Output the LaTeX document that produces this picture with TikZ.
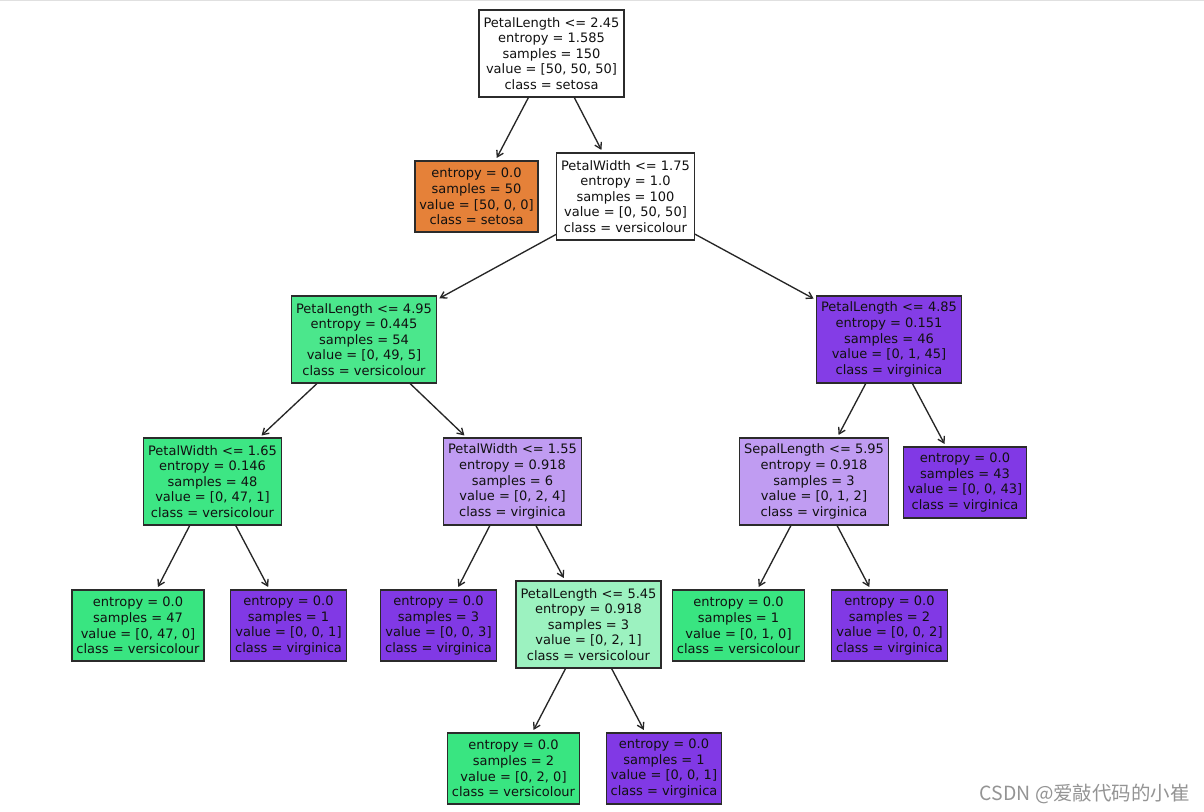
\documentclass[tikz,border=0pt]{standalone}
\usepackage{fontspec}
\setmainfont{DejaVu Sans}
\newfontfamily\cjk{Noto Sans CJK SC}
\usetikzlibrary{arrows.meta}
\begin{document}
\begin{tikzpicture}[x=0.75pt,y=-0.75pt,
  box/.style={draw=kEdge,line width=1pt,align=center,inner xsep=3.3pt,inner ysep=0pt,
    text=kText,font=\fontsize{9.75pt}{11.7pt}\selectfont},
  split/.style={box,minimum height=65.25pt},
  leaf/.style={box,minimum height=53.25pt},
  edge/.style={draw=kArrow,line width=1pt,-{Straight Barb[length=4.5pt,width=5.5pt]},shorten >=2pt}]
  % colors
  \definecolor{kEdge}{HTML}{2B2B2B}
  \definecolor{kArrow}{HTML}{262626}
  \definecolor{kText}{HTML}{111111}
  \definecolor{kOrange}{HTML}{E58139}
  \definecolor{kGreen}{HTML}{39E581}
  \definecolor{kPurple}{HTML}{8139E5}
  \definecolor{kGreenA}{HTML}{4BE78C}
  \definecolor{kGreenB}{HTML}{3DE684}
  \definecolor{kGreenC}{HTML}{9CF2C0}
  \definecolor{kPurpleA}{HTML}{843DE6}
  \definecolor{kPurpleB}{HTML}{C09CF2}
  % frame
  \useasboundingbox[fill=white] (0,0) rectangle (1204,812);
  \draw[draw=black!12,line width=0.75pt] (0,0.5) -- (1204,0.5);
  % splits
  \node[split,fill=white] (n0) at (551.5,53.5)
    {PetalLength <= 2.45\\entropy = 1.585\\samples = 150\\value = [50, 50, 50]\\class = setosa};
  \node[split,fill=white] (n2) at (625.5,196.5)
    {PetalWidth <= 1.75\\entropy = 1.0\\samples = 100\\value = [0, 50, 50]\\class = versicolour};
  \node[split,fill=kGreenA] (n3) at (364,339.5)
    {PetalLength <= 4.95\\entropy = 0.445\\samples = 54\\value = [0, 49, 5]\\class = versicolour};
  \node[split,fill=kPurpleA] (n12) at (889,339.5)
    {PetalLength <= 4.85\\entropy = 0.151\\samples = 46\\value = [0, 1, 45]\\class = virginica};
  \node[split,fill=kGreenB] (n4) at (212.5,481.5)
    {PetalWidth <= 1.65\\entropy = 0.146\\samples = 48\\value = [0, 47, 1]\\class = versicolour};
  \node[split,fill=kPurpleB] (n7) at (512.5,481.5)
    {PetalWidth <= 1.55\\entropy = 0.918\\samples = 6\\value = [0, 2, 4]\\class = virginica};
  \node[split,fill=kPurpleB] (n13) at (814,481.5)
    {SepalLength <= 5.95\\entropy = 0.918\\samples = 3\\value = [0, 1, 2]\\class = virginica};
  \node[split,fill=kGreenC] (n9) at (588.5,624.5)
    {PetalLength <= 5.45\\entropy = 0.918\\samples = 3\\value = [0, 2, 1]\\class = versicolour};
  % leaves
  \node[leaf,fill=kOrange] (n1) at (476.5,196.5)
    {entropy = 0.0\\samples = 50\\value = [50, 0, 0]\\class = setosa};
  \node[leaf,fill=kPurple] (n16) at (965,482.5)
    {entropy = 0.0\\samples = 43\\value = [0, 0, 43]\\class = virginica};
  \node[leaf,fill=kGreen] (n5) at (138,625.5)
    {entropy = 0.0\\samples = 47\\value = [0, 47, 0]\\class = versicolour};
  \node[leaf,fill=kPurple] (n6) at (288.5,625.5)
    {entropy = 0.0\\samples = 1\\value = [0, 0, 1]\\class = virginica};
  \node[leaf,fill=kPurple] (n8) at (438.5,625.5)
    {entropy = 0.0\\samples = 3\\value = [0, 0, 3]\\class = virginica};
  \node[leaf,fill=kGreen] (n14) at (738.5,625.5)
    {entropy = 0.0\\samples = 1\\value = [0, 1, 0]\\class = versicolour};
  \node[leaf,fill=kPurple] (n15) at (889.5,625.5)
    {entropy = 0.0\\samples = 2\\value = [0, 0, 2]\\class = virginica};
  \node[leaf,fill=kGreen] (n10) at (513.5,768.5)
    {entropy = 0.0\\samples = 2\\value = [0, 2, 0]\\class = versicolour};
  \node[leaf,fill=kPurple] (n11) at (664,768.5)
    {entropy = 0.0\\samples = 1\\value = [0, 0, 1]\\class = virginica};
  % edges
  \draw[edge] (n0) -- (n1);
  \draw[edge] (n0) -- (n2);
  \draw[edge] (n2) -- (n3);
  \draw[edge] (n2) -- (n12);
  \draw[edge] (n3) -- (n4);
  \draw[edge] (n3) -- (n7);
  \draw[edge] (n4) -- (n5);
  \draw[edge] (n4) -- (n6);
  \draw[edge] (n7) -- (n8);
  \draw[edge] (n7) -- (n9);
  \draw[edge] (n9) -- (n10);
  \draw[edge] (n9) -- (n11);
  \draw[edge] (n12) -- (n13);
  \draw[edge] (n12) -- (n16);
  \draw[edge] (n13) -- (n14);
  \draw[edge] (n13) -- (n15);
  % watermark
  \node[anchor=base east,inner sep=0pt,text=black!42,font=\cjk\fontsize{14.6pt}{14.6pt}\selectfont] (mark) at (1190,800)
    {CSDN @爱敲代码的小崔};
\end{tikzpicture}
\end{document}
